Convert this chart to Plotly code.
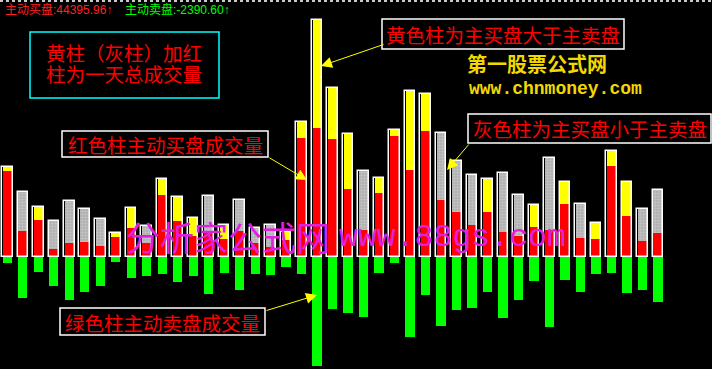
import plotly.graph_objects as go

# ---- data ----
days = list(range(1, 44))
buy_red = [86, 26, 37, 8, 14, 15, 11, 20, 29, 14, 62, 36, 21, 25, 18, 26, 14, 10, 17, 119,
           129, 118, 68, 27, 64, 121, 87, 126, 57, 45, 32, 45, 25, 21, 30, 27, 53, 19, 18, 91,
           41, 16, 24]
upper_part = [4, 39, 13, 28, 42, 33, 27, 4, 20, 17, 16, 24, 18, 36, 14, 31, 15, 22, 8, 16,
              108, 51, 55, 59, 15, 6, 79, 37, 67, 51, 50, 33, 59, 41, 22, 72, 22, 34, 16, 15,
              34, 32, 43]
sell_green = [6, 41, 15, 29, 43, 35, 29, 5, 21, 19, 17, 25, 19, 37, 16, 33, 17, 18, 10, 17,
              109, 52, 56, 60, 16, 6, 80, 38, 69, 53, 51, 35, 61, 43, 24, 70, 23, 35, 17, 16,
              36, 33, 45]
header_buy = "主动买盘:44395.96↑"
header_sell = "主动卖盘:-2390.60↑"

W, H = 712, 369
totals = [r + u for r, u in zip(buy_red, upper_part)]
is_yellow = [r >= s for r, s in zip(buy_red, sell_green)]
upper_yellow = [u if y else 0 for u, y in zip(upper_part, is_yellow)]
upper_gray = [0 if y else u for u, y in zip(upper_part, is_yellow)]

fig = go.Figure()
fig.add_trace(go.Bar(x=days, y=buy_red, base=0, width=0.58,
                     marker=dict(color="#FF0000", line=dict(width=0)), hoverinfo="skip"))
fig.add_trace(go.Bar(x=days, y=upper_yellow, base=buy_red, width=0.58,
                     marker=dict(color="#FFFF00", line=dict(width=0)), hoverinfo="skip"))
fig.add_trace(go.Bar(x=days, y=upper_gray, base=buy_red, width=0.58,
                     marker=dict(color="#B0B0B0", line=dict(width=0),
                                 pattern=dict(shape=".", fgcolor="#DCDCDC", bgcolor="#ABABAB",
                                              size=3, solidity=0.5)),
                     hoverinfo="skip"))
fig.add_trace(go.Bar(x=days, y=totals, base=0, width=0.68,
                     marker=dict(color="rgba(0,0,0,0)", line=dict(color="#FFFFFF", width=1.5)),
                     hoverinfo="skip"))
fig.add_trace(go.Bar(x=days, y=[-s for s in sell_green], base=0, width=0.6,
                     marker=dict(color="#00FF00", line=dict(width=0)), hoverinfo="skip"))


def px(x):
    return x / W


def py(y):
    return 1 - y / H


shapes = [
    dict(type="line", xref="paper", yref="paper", x0=0, x1=1, y0=py(1), y1=py(1),
         line=dict(color="#C8C8C8", width=2, dash="dot"), layer="above"),
]
boxes = [
    # (x0, y0, x1, y1, border)
    (30, 32, 219, 98, "#00FFFF"),
    (382, 19, 624, 49, "#FFFFFF"),
    (62, 131, 268, 157, "#FFFFFF"),
    (468, 114, 711, 143, "#FFFFFF"),
    (60, 308, 265, 335, "#FFFFFF"),
]
for x0, y0, x1, y1, c in boxes:
    shapes.append(dict(type="rect", xref="paper", yref="paper",
                       x0=px(x0), x1=px(x1), y0=py(y1), y1=py(y0),
                       line=dict(color=c, width=1.5), fillcolor="#000000", layer="above"))

cjk = "Noto Sans CJK SC"
ann = []


def text(t, x, y, size, color, family=cjk, anchor="left", bold=False):
    if bold:
        t = "<b>" + t + "</b>"
    ann.append(dict(text=t, x=px(x), y=py(y), xref="paper", yref="paper",
                    xanchor=anchor, yanchor="middle", showarrow=False,
                    font=dict(family=family, size=size, color=color)))


text(header_buy, 3, 9, 12, "#FF2020", family="Liberation Sans, " + cjk)
text(header_sell, 123, 9, 12, "#00FF00", family="Liberation Sans, " + cjk)

text("黄柱（灰柱）加红", 124, 52.5, 19.5, "#FF0000", anchor="center")
text("柱为一天总成交量", 124, 73.5, 19.5, "#FF0000", anchor="center")
text("黄色柱为主买盘大于主卖盘", 503, 34, 19.5, "#FF0000", anchor="center")
text("红色柱主动买盘成交量", 165, 144, 19.5, "#FF0000", anchor="center")
text("灰色柱为主买盘小于主卖盘", 590, 128, 19.5, "#FF0000", anchor="center")
text("绿色柱主动卖盘成交量", 162, 322, 19.5, "#FF0000", anchor="center")

text("第一股票公式网", 537, 63, 20, "#F2D800", anchor="center", bold=True)
text("www.chnmoney.com", 555, 89, 18, "#F2D800", family="Liberation Mono", anchor="center",
     bold=True)

text("分析家公式网", 124, 236, 34, "#E020E0")
text("www.88gs.com", 337, 238, 31.5, "#E020E0", family="Liberation Mono")

arrows = [
    # head (x, y), tail offset (ax, ay)
    (321, 66, 64, -22),
    (307, 180, -39, -23),
    (317, 295, -52, 16),
    (447, 170, 23, -27),
]
for hx, hy, ax, ay in arrows:
    ann.append(dict(text="", x=px(hx), y=py(hy), xref="paper", yref="paper",
                    showarrow=True, ax=ax, ay=ay, arrowcolor="#FFFF00",
                    arrowhead=2, arrowsize=2.2, arrowwidth=1))

fig.update_layout(
    width=W, height=H,
    margin=dict(l=0, r=0, t=0, b=0, pad=0),
    paper_bgcolor="#000000", plot_bgcolor="#000000",
    barmode="overlay", bargap=0, showlegend=False,
    xaxis=dict(range=[0.529, 46.49], visible=False, fixedrange=True),
    yaxis=dict(range=[-112, 257], visible=False, fixedrange=True),
    shapes=shapes, annotations=ann,
)
fig.write_html("out.html", config={"displayModeBar": False},
               post_script="document.body.style.margin='0';"
                           "document.body.style.background='#000';")
